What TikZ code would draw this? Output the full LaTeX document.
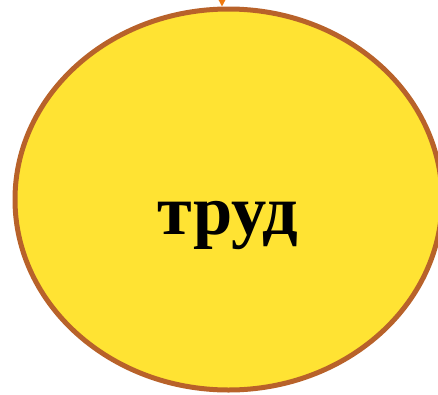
\documentclass[tikz,border=0pt]{standalone}
\usepackage{fontspec}
\setmainfont{Liberation Serif}
\usetikzlibrary{arrows.meta,shapes.geometric}
\definecolor{fillY}{HTML}{FFE333}
\definecolor{strokeB}{HTML}{B8622A}
\definecolor{arrowO}{HTML}{F07A10}
\begin{document}
\begin{tikzpicture}[x=1pt,y=1pt]
\useasboundingbox (0,0) rectangle (438,-394);
\tikzset{bubble/.style={ellipse,draw=strokeB,fill=fillY,line width=5pt,minimum width=427pt,minimum height=381pt,inner sep=0pt,outer sep=0pt}}
\node[bubble] (e) at (228.5,-199.5) {};
\node[font=\bfseries\fontsize{70.5}{70.5}\selectfont,anchor=base] (t) at (228,-234) {труд};
\coordinate (top) at (222,20);
\draw[arrowO,line width=1.5pt,-{Triangle[length=8pt,width=8pt]}] (top) -- ([xshift=-6.5pt,yshift=2.5pt]e.north);
\end{tikzpicture}
\end{document}
